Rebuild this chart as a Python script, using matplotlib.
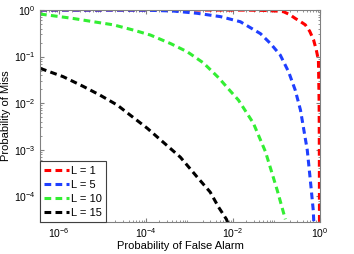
import numpy as np
import matplotlib
matplotlib.use("Agg")
import matplotlib.pyplot as plt

plt.rcParams['font.family'] = ['Liberation Sans', 'DejaVu Sans']

# values (Pfa, Pm)
pfa_l1 = [3.7e-7, 1e-3, 0.02, 0.05, 0.1, 0.145, 0.2, 0.27, 0.36, 0.46, 0.58, 0.71, 0.82, 0.92, 0.955, 0.965, 0.97, 0.972]
pm_l1 = [0.999, 0.999, 0.995, 0.98, 0.95, 0.92, 0.80, 0.66, 0.56, 0.48, 0.35, 0.23, 0.14, 0.084, 0.01, 1e-3, 1e-4, 2.7e-5]

pfa_l5 = [3.7e-7, 1e-4, 4.3e-4, 1.5e-3, 5.2e-3, 0.0148, 0.043, 0.073, 0.122, 0.19, 0.27, 0.356, 0.39, 0.51, 0.60, 0.70, 0.72]
pm_l5 = [0.998, 0.99, 0.95, 0.85, 0.72, 0.56, 0.31, 0.19, 0.108, 0.047, 0.019, 0.0071, 0.0043, 0.00098, 2.2e-4, 5e-5, 2.7e-5]

pfa_l10 = [3.7e-7, 2.1e-6, 6.2e-6, 1.8e-5, 5.2e-5, 1.27e-4, 3.7e-4, 8.9e-4, 2.1e-3, 4.7e-3, 8.8e-3, 0.0134, 0.0295, 0.056, 0.104, 0.16]
pm_l10 = [0.82, 0.66, 0.56, 0.48, 0.37, 0.29, 0.19, 0.127, 0.073, 0.035, 0.018, 0.0116, 0.0037, 9e-4, 1.35e-4, 3.2e-5]

pfa_l15 = [3.7e-7, 1.26e-6, 3.6e-6, 8.9e-6, 2.2e-5, 4.4e-5, 1.07e-4, 2.5e-4, 6.2e-4, 1.5e-3, 3.0e-3, 4.7e-3, 7.1e-3, 7.6e-3]
pm_l15 = [0.056, 0.037, 0.023, 0.0148, 0.0091, 0.0055, 0.0029, 0.00145, 6.9e-4, 2.6e-4, 1.23e-4, 5.8e-5, 3.2e-5, 2.7e-5]

labels = ['L = 1', 'L = 5', 'L = 10', 'L = 15']
colors = ['#ff0000', '#1f3fff', '#33ee33', '#000000']

fig = plt.figure(figsize=(3.54, 2.54), dpi=100)
ax = fig.add_axes([40/354, 1-222/254, 280/354, 212/254])

curves = [(pfa_l1, pm_l1), (pfa_l5, pm_l5), (pfa_l10, pm_l10), (pfa_l15, pm_l15)]
for (x, y), lab, c in zip(curves, labels, colors):
    ax.plot(x, y, linestyle=(0, (2.2, 1.4)), color=c, linewidth=2.2, label=lab)

ax.set_xscale('log')
ax.set_yscale('log')
ax.set_xlim(3.7e-7, 1)
ax.set_ylim(2.8e-5, 1)
ax.set_xticks([1e-6, 1e-4, 1e-2, 1])
ax.set_yticks([1e-4, 1e-3, 1e-2, 1e-1, 1])

for s in ax.spines.values():
    s.set_color('#808080')
ax.tick_params(which='both', direction='in', top=True, right=True, color='#808080', labelsize=7.5, pad=3)
ax.tick_params(which='major', length=3)
ax.tick_params(which='minor', length=1.5)

ax.set_xlabel('Probability of False Alarm', fontsize=8, labelpad=1)
ax.set_ylabel('Probability of Miss', fontsize=8, labelpad=2)

leg = ax.legend(loc='lower left', borderaxespad=0, fontsize=8, handlelength=2.2,
                handletextpad=0.2, labelspacing=0.35, borderpad=0.4, fancybox=False, framealpha=1)
leg.get_frame().set_edgecolor('#404040')
leg.get_frame().set_linewidth(0.8)

fig.savefig('out.png', dpi=100)
